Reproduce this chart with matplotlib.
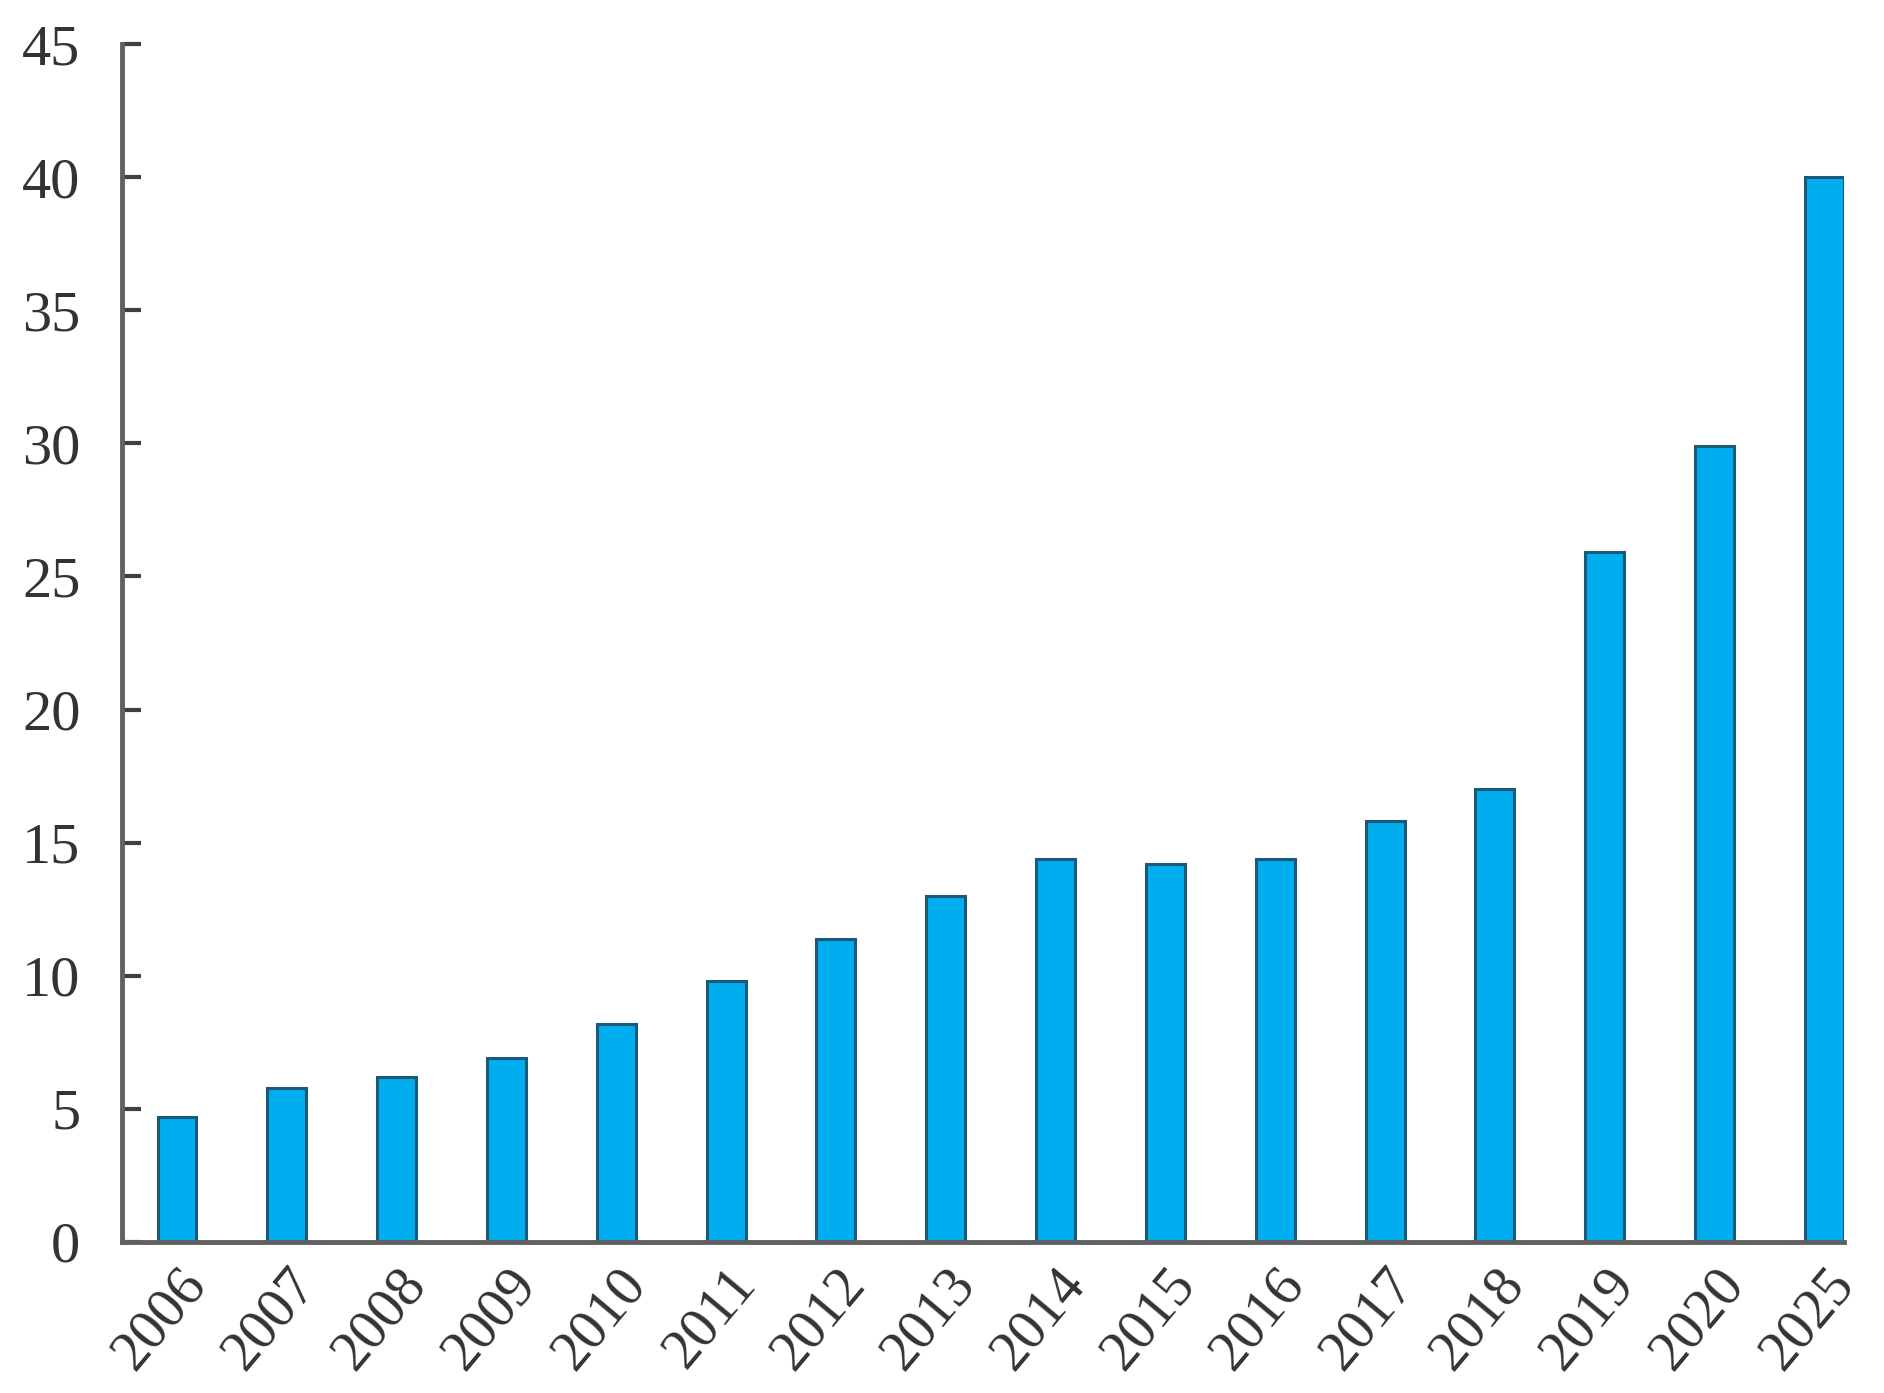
import numpy as np
import matplotlib
matplotlib.use("Agg")
import matplotlib.pyplot as plt

# data
years = ["2006", "2007", "2008", "2009", "2010", "2011", "2012", "2013",
         "2014", "2015", "2016", "2017", "2018", "2019", "2020", "2025"]
values = [4.7, 5.8, 6.2, 6.9, 8.2, 9.8, 11.4, 13.0,
          14.4, 14.2, 14.4, 15.8, 17.0, 25.9, 29.9, 40.0]
yticks = [0, 5, 10, 15, 20, 25, 30, 35, 40, 45]

plt.rcParams['font.family'] = ['Liberation Serif', 'DejaVu Serif']

fig = plt.figure(figsize=(18.84, 13.93), dpi=100)
ax = fig.add_axes([0.0648, 0.1084, 0.914, 0.86])

x = np.arange(len(years))
ax.bar(x, values, width=0.355, color='#00aeef', edgecolor='#1c5878', linewidth=2.2)

ax.set_xlim(-0.5, len(years) - 1 + 0.18)
ax.set_ylim(0, 45)
ax.set_yticks(yticks)
ax.set_yticklabels([str(t) for t in yticks], fontsize=42, color='#333333')
ax.set_xticks(x)
ax.set_xticklabels(years, fontsize=41, rotation=50, ha='right',
                   rotation_mode='anchor', color='#333333')

for s in ['top', 'right']:
    ax.spines[s].set_visible(False)
for s in ['left', 'bottom']:
    ax.spines[s].set_color('#606060')
    ax.spines[s].set_linewidth(3.5)

ax.tick_params(axis='y', direction='in', length=14, width=3, color='#404040', pad=30)
ax.tick_params(axis='x', length=0, pad=12)

fig.savefig("out.png", dpi=100)
